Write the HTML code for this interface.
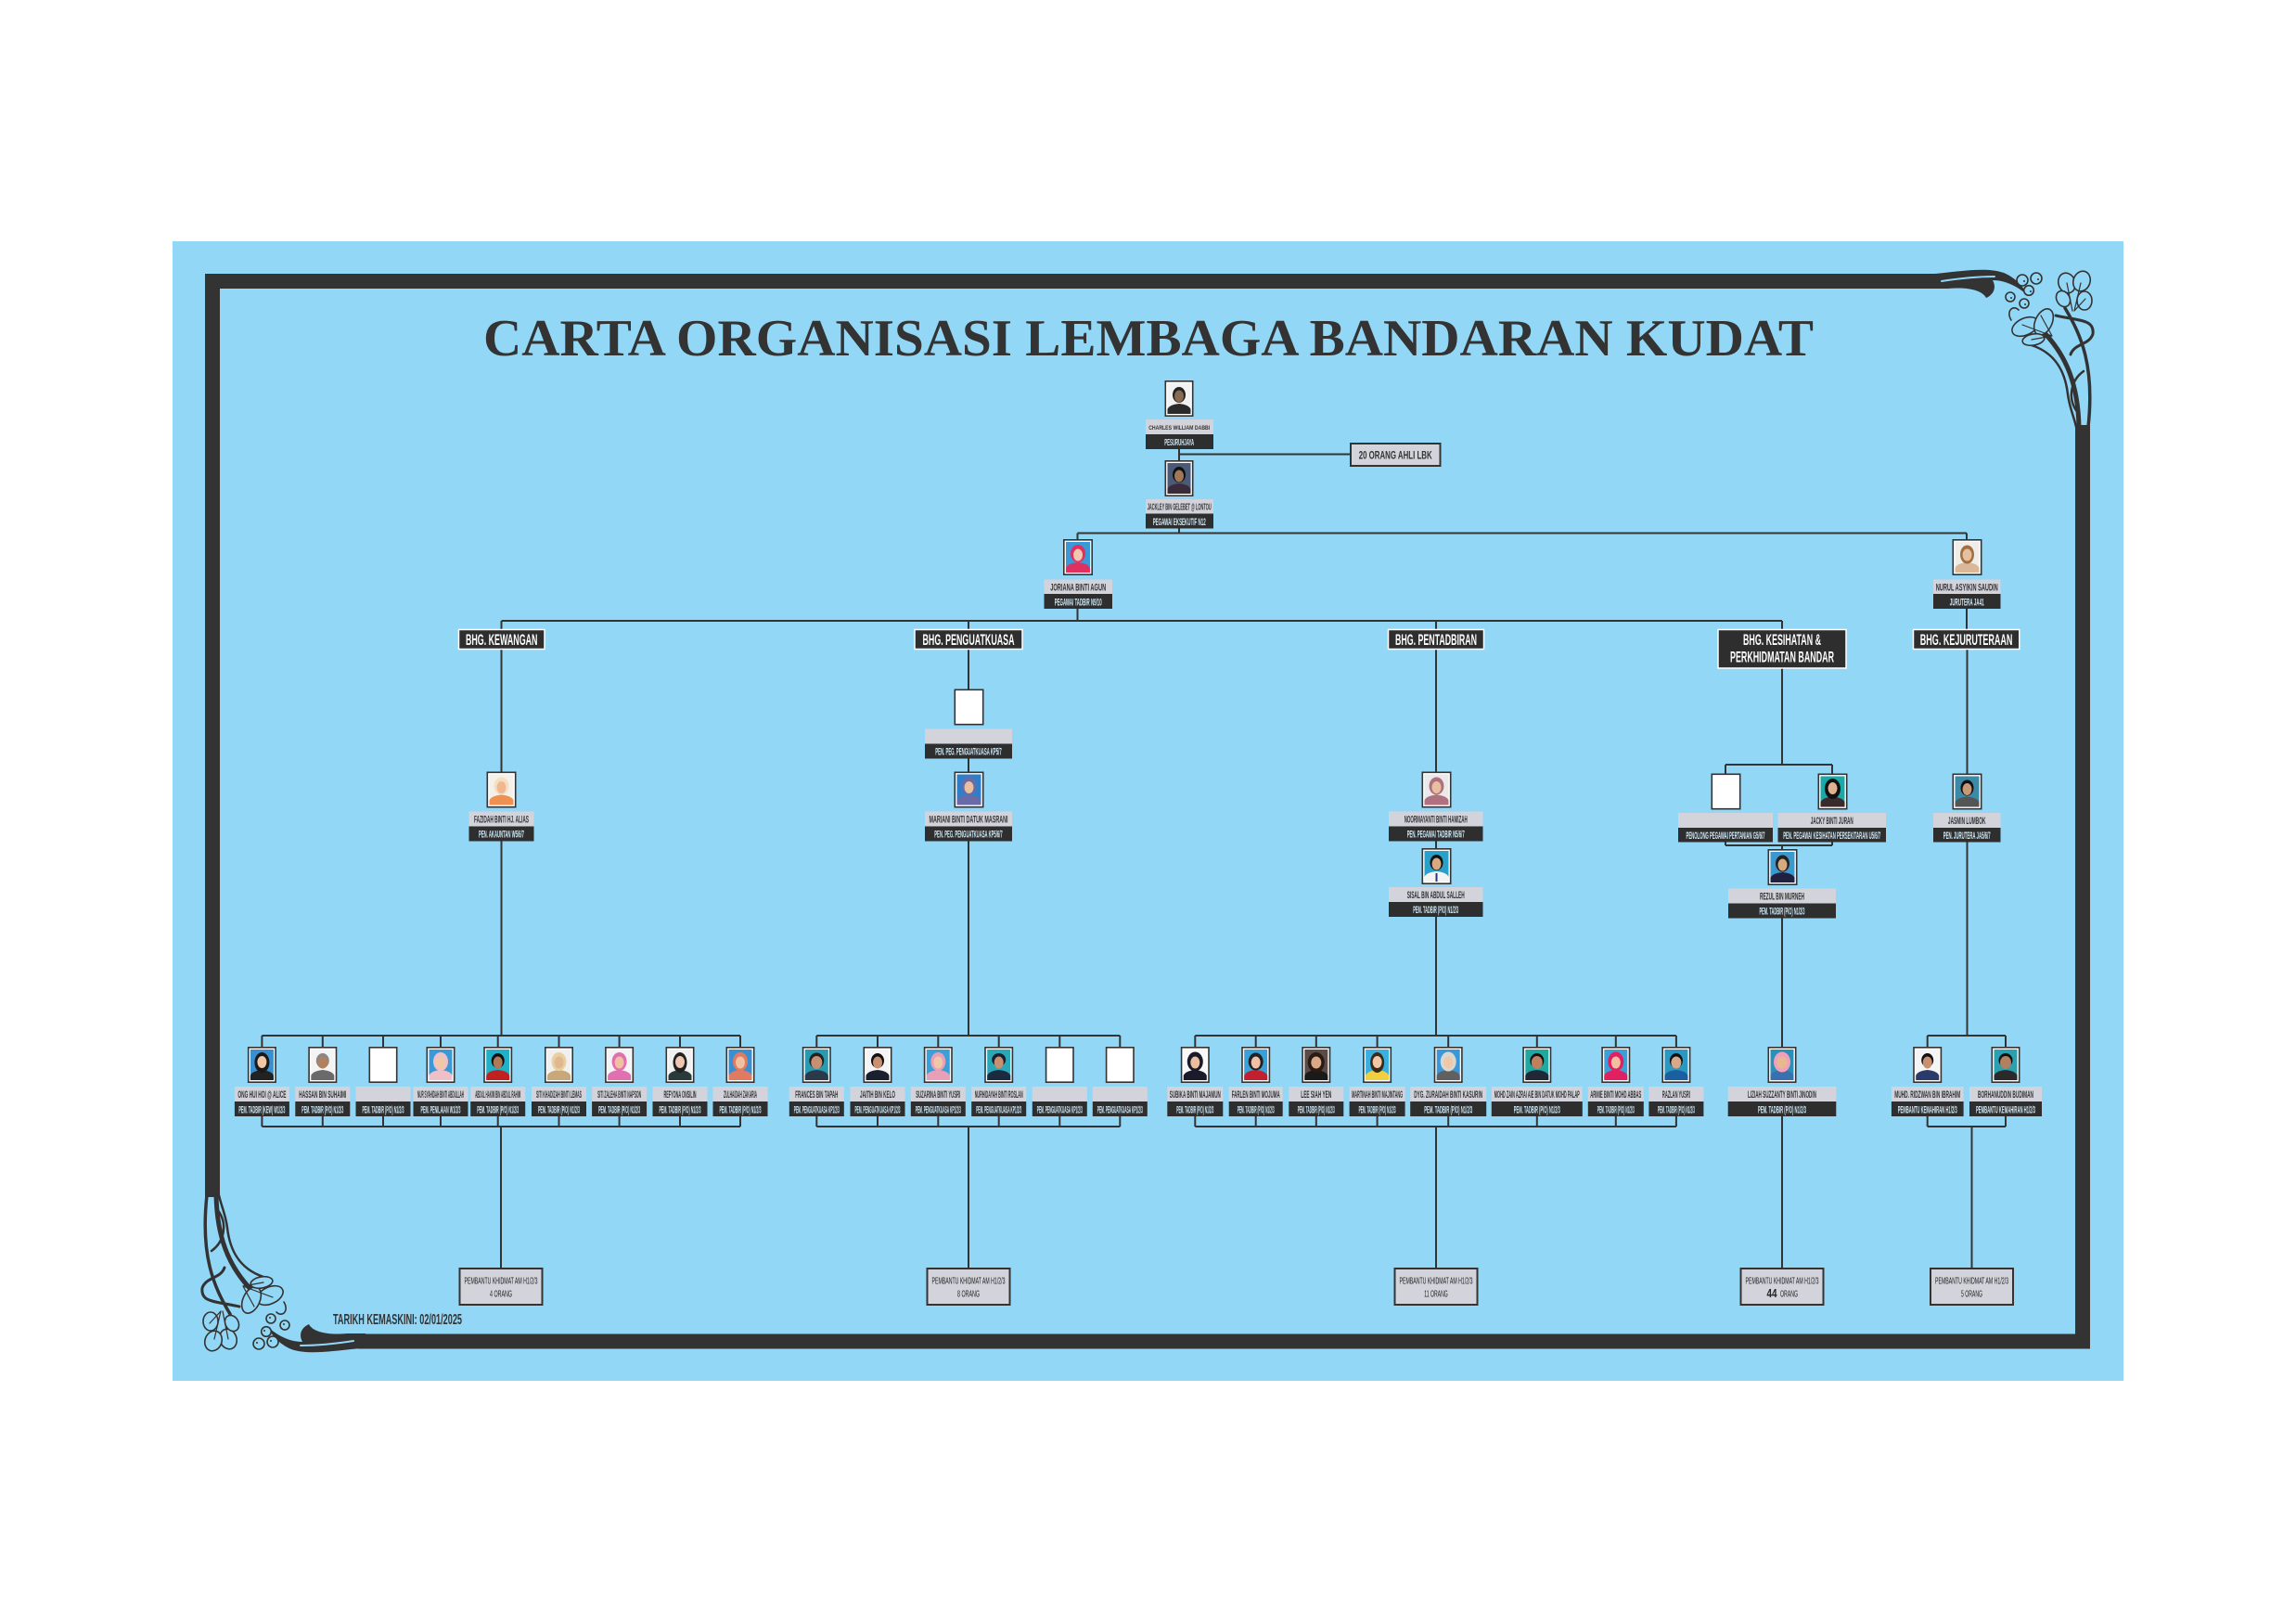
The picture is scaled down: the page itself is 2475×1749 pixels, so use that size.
<!DOCTYPE html>
<html><head><meta charset="utf-8"><title>Carta Organisasi Lembaga Bandaran Kudat</title>
<style>
html,body{margin:0;padding:0;background:#fff;}
svg{display:block;}
.l{stroke:#333;stroke-width:2;fill:none}
.pf{fill:#fff;stroke:#333;stroke-width:1.6}
.gb{fill:#d3d3dc}
.db{fill:#2e2e2e}
.nm{font-family:"Liberation Sans",sans-serif;font-size:11px;font-weight:bold;fill:#333;text-anchor:middle}
.tt{font-family:"Liberation Sans",sans-serif;font-size:11px;font-weight:bold;fill:#cfe9f7;text-anchor:middle}
.hd{fill:#2e2e2e;stroke:#fff;stroke-width:1.5}
.ht{font-family:"Liberation Sans",sans-serif;font-size:17px;font-weight:bold;fill:#fff;text-anchor:middle}
.bb{fill:#d3d3dc;stroke:#333;stroke-width:2}
.bt{font-family:"Liberation Sans",sans-serif;font-size:10.5px;fill:#222;text-anchor:middle}
</style></head>
<body>
<svg width="2475" height="1749" viewBox="0 0 2475 1749" xmlns="http://www.w3.org/2000/svg">
<rect width="2475" height="1749" fill="#fff"/>
<rect x="186" y="260" width="2103" height="1228" fill="#93d7f6"/>

<!-- frame -->
<rect x="221" y="295" width="1866" height="16" fill="#333"/>
<rect x="2237" y="458" width="16" height="995.5" fill="#333"/>
<rect x="386" y="1437.5" width="1867" height="16" fill="#333"/>
<rect x="221" y="295" width="16" height="995" fill="#333"/>

<!-- ornament top-right -->
<g fill="none" stroke="#333" stroke-linecap="round">
 <path d="M2080 295.5 C2110 293 2140 287 2160 294 C2172 299 2183 310 2183 316 C2172 307 2160 302 2148 302 C2152 309 2150 317 2141 321 C2137 313 2122 309 2100 311 L2080 311 Z" fill="#333" stroke="none"/>
 <path d="M2093 303 C2112 300 2132 298 2150 298" stroke="#93d7f6" stroke-width="2"/>
 <path d="M2205 360 C2228 385 2240 415 2241 460" stroke-width="5"/>
 <path d="M2226 332 C2244 362 2258 395 2251 460" stroke-width="3.5"/>
 <path d="M2216 340 C2242 346 2258 344 2256 360 C2252 372 2236 370 2232 382" stroke-width="3"/>
 <path d="M2190 372 C2214 380 2226 398 2229 425 C2231 440 2236 450 2238 460" stroke-width="2.5"/>
 <path d="M2246 400 C2232 410 2228 430 2240 445" stroke-width="2.5"/>
 <g stroke-width="1.6" fill="#93d7f6">
  <circle cx="2180" cy="302" r="6"/><circle cx="2195" cy="300" r="6"/><circle cx="2187" cy="313" r="5.3"/><circle cx="2167" cy="320" r="5"/><circle cx="2182" cy="327" r="5"/>
 </g>
 <g fill="#333" stroke="none">
  <circle cx="2182" cy="303" r="1"/><circle cx="2197" cy="301" r="1"/><circle cx="2189" cy="314" r="1"/><circle cx="2168" cy="321" r="1"/><circle cx="2183" cy="328" r="1"/>
 </g>
 <g stroke-width="1.6" fill="#93d7f6">
  <ellipse cx="2228" cy="305" rx="9" ry="11" transform="rotate(-20 2228 305)"/>
  <ellipse cx="2244" cy="303" rx="9" ry="11" transform="rotate(20 2244 303)"/>
  <ellipse cx="2247" cy="324" rx="8" ry="10"/>
  <ellipse cx="2224" cy="322" rx="7" ry="9" transform="rotate(-30 2224 322)"/>
 </g>
 <path d="M2234 335 L2228 305 M2236 335 L2243 305 M2236 335 L2248 322" stroke-width="1.2"/>
 <g stroke-width="1.6" fill="#93d7f6">
  <ellipse cx="2183" cy="352" rx="15" ry="9" transform="rotate(-25 2183 352)"/>
  <ellipse cx="2203" cy="347" rx="9" ry="15" transform="rotate(25 2203 347)"/>
  <ellipse cx="2192" cy="366" rx="12" ry="6" transform="rotate(-10 2192 366)"/>
  <path d="M2168 345 C2162 335 2170 328 2176 334"/>
 </g>
 <path d="M2212 362 L2180 350 M2212 362 L2200 340 M2212 362 L2190 366" stroke-width="1.2"/>
</g>

<!-- ornament bottom-left (rotated copy) -->
<g fill="none" stroke="#333" stroke-linecap="round" transform="rotate(180 1237 874)">
 <path d="M2080 295.5 C2110 293 2140 287 2160 294 C2172 299 2183 310 2183 316 C2172 307 2160 302 2148 302 C2152 309 2150 317 2141 321 C2137 313 2122 309 2100 311 L2080 311 Z" fill="#333" stroke="none"/>
 <path d="M2093 303 C2112 300 2132 298 2150 298" stroke="#93d7f6" stroke-width="2"/>
 <path d="M2205 360 C2228 385 2240 415 2241 460" stroke-width="5"/>
 <path d="M2226 332 C2244 362 2258 395 2251 460" stroke-width="3.5"/>
 <path d="M2216 340 C2242 346 2258 344 2256 360 C2252 372 2236 370 2232 382" stroke-width="3"/>
 <path d="M2190 372 C2214 380 2226 398 2229 425 C2231 440 2236 450 2238 460" stroke-width="2.5"/>
 <path d="M2246 400 C2232 410 2228 430 2240 445" stroke-width="2.5"/>
 <g stroke-width="1.6" fill="#93d7f6">
  <circle cx="2180" cy="302" r="6"/><circle cx="2195" cy="300" r="6"/><circle cx="2187" cy="313" r="5.3"/><circle cx="2167" cy="320" r="5"/><circle cx="2182" cy="327" r="5"/>
 </g>
 <g fill="#333" stroke="none">
  <circle cx="2182" cy="303" r="1"/><circle cx="2197" cy="301" r="1"/><circle cx="2189" cy="314" r="1"/><circle cx="2168" cy="321" r="1"/><circle cx="2183" cy="328" r="1"/>
 </g>
 <g stroke-width="1.6" fill="#93d7f6">
  <ellipse cx="2228" cy="305" rx="9" ry="11" transform="rotate(-20 2228 305)"/>
  <ellipse cx="2244" cy="303" rx="9" ry="11" transform="rotate(20 2244 303)"/>
  <ellipse cx="2247" cy="324" rx="8" ry="10"/>
  <ellipse cx="2224" cy="322" rx="7" ry="9" transform="rotate(-30 2224 322)"/>
 </g>
 <path d="M2234 335 L2228 305 M2236 335 L2243 305 M2236 335 L2248 322" stroke-width="1.2"/>
 <g stroke-width="1.6" fill="#93d7f6">
  <ellipse cx="2183" cy="352" rx="15" ry="9" transform="rotate(-25 2183 352)"/>
  <ellipse cx="2203" cy="347" rx="9" ry="15" transform="rotate(25 2203 347)"/>
  <ellipse cx="2192" cy="366" rx="12" ry="6" transform="rotate(-10 2192 366)"/>
  <path d="M2168 345 C2162 335 2170 328 2176 334"/>
 </g>
 <path d="M2212 362 L2180 350 M2212 362 L2200 340 M2212 362 L2190 366" stroke-width="1.2"/>
</g>

<!-- title -->
<text x="1238" y="383" text-anchor="middle" textLength="1434" lengthAdjust="spacingAndGlyphs" style="font-family:'Liberation Serif',serif;font-weight:bold;font-size:56px;fill:#333">CARTA ORGANISASI LEMBAGA BANDARAN KUDAT</text>

<!-- connectors -->
<path class="l" d="M1271 484V496 M1271 489.5H1456 M1271 569V574.5 M1161.5 574.5H2120 M1161.5 574.5V581 M2120 574.5V581
M1161.5 656V669 M540.5 669H1921 M540.5 669V678 M1044 669V678 M1548 669V678 M1921 669V678 M2120 656V678
M540.5 699.5V831.5 M1044 699.5V742.5 M1548 699.5V831.5 M1921 720V824 M1860 824H1975 M1860 824V833.5 M1975 824V833.5 M2120.5 699.5V833.5
M1044 817V831.5 M1548 906.5V914 M1860 907.5V911 M1975 907.5V911 M1860 911H1975 M1921 911V915
M540.5 906.5V1116 M1044 906.5V1116 M1548 988V1116 M1921 989.5V1128 M2120.5 907.5V1116
M282.4 1116H798 M282.4 1116V1128 M347.8 1116V1128 M413 1116V1128 M475 1116V1128 M536.7 1116V1128 M602.5 1116V1128 M667.6 1116V1128 M733 1116V1128 M798 1116V1128
M282.4 1203V1214 M347.8 1203V1214 M413 1203V1214 M475 1203V1214 M536.7 1203V1214 M602.5 1203V1214 M667.6 1203V1214 M733 1203V1214 M798 1203V1214 M282.4 1214H798 M540 1214V1367
M880.3 1116H1207.3 M880.3 1116V1128 M946 1116V1128 M1011.3 1116V1128 M1076.7 1116V1128 M1142.3 1116V1128 M1207.3 1116V1128
M880.3 1203V1214 M946 1203V1214 M1011.3 1203V1214 M1076.7 1203V1214 M1142.3 1203V1214 M1207.3 1203V1214 M880.3 1214H1207.3 M1044 1214V1367
M1288.3 1116H1806.9 M1288.3 1116V1128 M1353.7 1116V1128 M1418.8 1116V1128 M1484.6 1116V1128 M1561.2 1116V1128 M1656.8 1116V1128 M1741.8 1116V1128 M1806.9 1116V1128
M1288.3 1203V1214 M1353.7 1203V1214 M1418.8 1203V1214 M1484.6 1203V1214 M1561.2 1203V1214 M1656.8 1203V1214 M1741.8 1203V1214 M1806.9 1203V1214 M1288.3 1214H1806.9 M1548 1214V1367
M1921 1203V1367
M2077.7 1116H2162 M2077.7 1116V1128 M2162 1116V1128 M2077.7 1203V1214 M2162 1203V1214 M2077.7 1214H2162 M2125.5 1214V1367"/>

<!-- ===== TOP LEVEL ===== -->
<g transform="translate(1255.5,410)"><rect class="pf" x=".8" y=".8" width="29.4" height="37.4"/><rect x="3" y="3" width="25" height="33" fill="#f2f2f2"/><path d="M3 36V31Q5 26 15.5 25Q26 26 28 31V36Z" fill="#2a2a2a"/><ellipse cx="15.5" cy="15.5" rx="7" ry="8.5" fill="#222"/><ellipse cx="15.5" cy="17" rx="5" ry="6.5" fill="#8a6a50"/></g>
<rect class="gb" x="1235" y="452" width="73" height="16"/><rect class="db" x="1235" y="468" width="73" height="16"/>
<text class="nm" x="1271.2" y="463" style="font-size:6.5px" textLength="66" lengthAdjust="spacingAndGlyphs">CHARLES WILLIAM DABBI</text>
<text class="tt" x="1271.2" y="480" style="font-size:10px" textLength="32" lengthAdjust="spacingAndGlyphs">PESURUHJAYA</text>

<rect class="bb" x="1456" y="478" width="96.5" height="24"/>
<text class="bt" x="1504.2" y="494.5" style="font-size:11.5px;font-weight:bold;fill:#333" textLength="79" lengthAdjust="spacingAndGlyphs">20 ORANG AHLI LBK</text>

<g transform="translate(1255.5,496)"><rect class="pf" x=".8" y=".8" width="29.4" height="37.4"/><rect x="3" y="3" width="25" height="33" fill="#4a5a78"/><path d="M3 36V31Q5 26 15.5 25Q26 26 28 31V36Z" fill="#3a2a3a"/><ellipse cx="15.5" cy="15.5" rx="7" ry="8.5" fill="#111"/><ellipse cx="15.5" cy="17" rx="5" ry="6.5" fill="#a07858"/></g>
<rect class="gb" x="1235" y="538" width="73" height="15.5"/><rect class="db" x="1235" y="553.5" width="73" height="16"/>
<text class="nm" x="1271.2" y="549.3" style="font-size:10px" textLength="69" lengthAdjust="spacingAndGlyphs">JACKLEY BIN GELEBET @ LONTOU</text>
<text class="tt" x="1271.2" y="566" textLength="57" lengthAdjust="spacingAndGlyphs">PEGAWAI EKSEKUTIF N12</text>

<g transform="translate(1146,581)"><rect class="pf" x=".8" y=".8" width="30.4" height="37.4"/><rect x="3" y="3" width="26" height="33" fill="#3a9ad8"/><path d="M3 36V31Q5 26 16 25Q27 26 29 31V36Z" fill="#e03060"/><ellipse cx="16" cy="15.5" rx="8" ry="9.5" fill="#e03060"/><ellipse cx="16" cy="17" rx="5" ry="6.5" fill="#f0c8b0"/></g>
<rect class="gb" x="1125.5" y="624.5" width="73.5" height="16"/><rect class="db" x="1125.5" y="640" width="73.5" height="16"/>
<text class="nm" x="1162.2" y="636.7" textLength="60" lengthAdjust="spacingAndGlyphs">JORIANA BINTI AGUN</text>
<text class="tt" x="1162.2" y="652.7" textLength="51" lengthAdjust="spacingAndGlyphs">PEGAWAI TADBIR N9/10</text>

<g transform="translate(2104.5,581)"><rect class="pf" x=".8" y=".8" width="30.4" height="37.4"/><rect x="3" y="3" width="26" height="33" fill="#f0ece8"/><path d="M3 36V31Q5 26 16 25Q27 26 29 31V36Z" fill="#d8b898"/><ellipse cx="16" cy="16.5" rx="7.5" ry="10" fill="#a07040"/><ellipse cx="16" cy="17" rx="5" ry="6.5" fill="#e8c0a0"/></g>
<rect class="gb" x="2084" y="624.5" width="72.5" height="16"/><rect class="db" x="2084" y="640" width="72.5" height="16"/>
<text class="nm" x="2120.2" y="636.7" textLength="67" lengthAdjust="spacingAndGlyphs">NURUL ASYIKIN SAUDIN</text>
<text class="tt" x="2120.2" y="652.7" textLength="37" lengthAdjust="spacingAndGlyphs">JURUTERA JA41</text>

<!-- ===== SECTION HEADERS ===== -->
<rect class="hd" x="494.5" y="678.5" width="92.5" height="21"/>
<text class="ht" x="540.7" y="695" textLength="77.5" lengthAdjust="spacingAndGlyphs">BHG. KEWANGAN</text>
<rect class="hd" x="986" y="678.5" width="116" height="21"/>
<text class="ht" x="1044" y="695" textLength="99" lengthAdjust="spacingAndGlyphs">BHG. PENGUATKUASA</text>
<rect class="hd" x="1496.5" y="678.5" width="103" height="21"/>
<text class="ht" x="1548" y="695" textLength="88" lengthAdjust="spacingAndGlyphs">BHG. PENTADBIRAN</text>
<rect class="hd" x="1852" y="678.5" width="138" height="41.5"/>
<text class="ht" x="1921" y="695" textLength="84" lengthAdjust="spacingAndGlyphs">BHG. KESIHATAN &amp;</text>
<text class="ht" x="1921" y="713.3" textLength="112" lengthAdjust="spacingAndGlyphs">PERKHIDMATAN BANDAR</text>
<rect class="hd" x="2062.5" y="678.5" width="114.3" height="21"/>
<text class="ht" x="2119.6" y="695" textLength="99.6" lengthAdjust="spacingAndGlyphs">BHG. KEJURUTERAAN</text>

<!-- ===== MID LEVEL ===== -->
<g transform="translate(524.5,831.5)"><rect class="pf" x=".8" y=".8" width="30.4" height="37.4"/><rect x="3" y="3" width="26" height="33" fill="#f4f0ea"/><path d="M3 36V31Q5 26 16 25Q27 26 29 31V36Z" fill="#f09050"/><ellipse cx="16" cy="15.5" rx="8" ry="9.5" fill="#f4e0c0"/><ellipse cx="16" cy="17" rx="5" ry="6.5" fill="#f0b890"/></g>
<rect class="gb" x="505.5" y="874.5" width="70" height="16"/><rect class="db" x="505.5" y="890.5" width="70" height="16"/>
<text class="nm" x="540.5" y="886.5" textLength="59" lengthAdjust="spacingAndGlyphs">FAZIDAH BINTI HJ. ALIAS</text>
<text class="tt" x="540.5" y="902.5" textLength="49" lengthAdjust="spacingAndGlyphs">PEN. AKAUNTAN W5/6/7</text>

<g transform="translate(1028.5,742.5)"><rect class="pf" x=".8" y=".8" width="30.4" height="37.4"/></g>
<rect class="gb" x="997" y="785.5" width="94" height="16"/><rect class="db" x="997" y="801.5" width="94" height="16"/>
<text class="tt" x="1044" y="813.5" textLength="71.5" lengthAdjust="spacingAndGlyphs">PEN. PEG. PENGUATKUASA KP5/7</text>

<g transform="translate(1028.5,831.5)"><rect class="pf" x=".8" y=".8" width="30.4" height="37.4"/><rect x="3" y="3" width="26" height="33" fill="#2f7fc8"/><path d="M3 36V31Q5 26 16 25Q27 26 29 31V36Z" fill="#6a6aa8"/><ellipse cx="16" cy="15.5" rx="8" ry="9.5" fill="#6a6aa8"/><ellipse cx="16" cy="17" rx="5" ry="6.5" fill="#e8c0a0"/></g>
<rect class="gb" x="997" y="874.5" width="94" height="16"/><rect class="db" x="997" y="890.5" width="94" height="16"/>
<text class="nm" x="1044" y="886.5" textLength="85" lengthAdjust="spacingAndGlyphs">MARIANI BINTI DATUK MASRANI</text>
<text class="tt" x="1044" y="902.5" textLength="73.5" lengthAdjust="spacingAndGlyphs">PEN. PEG. PENGUATKUASA KP5/6/7</text>

<g transform="translate(1532.5,831.5)"><rect class="pf" x=".8" y=".8" width="30.4" height="37.4"/><rect x="3" y="3" width="26" height="33" fill="#eaeaea"/><path d="M3 36V31Q5 26 16 25Q27 26 29 31V36Z" fill="#b07080"/><ellipse cx="16" cy="15.5" rx="8" ry="9.5" fill="#b07080"/><ellipse cx="16" cy="17" rx="5" ry="6.5" fill="#e8c0a0"/></g>
<rect class="gb" x="1497" y="874.5" width="101.5" height="16"/><rect class="db" x="1497" y="890.5" width="101.5" height="16"/>
<text class="nm" x="1547.7" y="886.5" textLength="68" lengthAdjust="spacingAndGlyphs">NOORMAYANTI BINTI HAMIZAH</text>
<text class="tt" x="1547.7" y="902.5" textLength="62" lengthAdjust="spacingAndGlyphs">PEN. PEGAWAI TADBIR N5/6/7</text>

<g transform="translate(1532.5,914)"><rect class="pf" x=".8" y=".8" width="30.4" height="37.4"/><rect x="3" y="3" width="26" height="33" fill="#2aa0c8"/><path d="M3 36V31Q5 26 16 25Q27 26 29 31V36Z" fill="#f4f4f4"/><rect x="15" y="27" width="2" height="9" fill="#1a3a8a"/><ellipse cx="16" cy="15.5" rx="7" ry="8.5" fill="#111"/><ellipse cx="16" cy="17" rx="5" ry="6.5" fill="#d8a880"/></g>
<rect class="gb" x="1497" y="956" width="101.5" height="16"/><rect class="db" x="1497" y="972" width="101.5" height="16"/>
<text class="nm" x="1547.7" y="968" textLength="62" lengthAdjust="spacingAndGlyphs">SISAL BIN ABDUL SALLEH</text>
<text class="tt" x="1547.7" y="984" textLength="49" lengthAdjust="spacingAndGlyphs">PEM. TADBIR (P/O) N1/2/3</text>

<g transform="translate(1844.5,833.5)"><rect class="pf" x=".8" y=".8" width="30.4" height="37.4"/></g>
<rect class="gb" x="1809" y="876" width="102" height="16"/><rect class="db" x="1809" y="892" width="102" height="15.5"/>
<text class="tt" x="1860" y="904" textLength="85" lengthAdjust="spacingAndGlyphs">PENOLONG PEGAWAI PERTANIAN G5/6/7</text>

<g transform="translate(1959.5,833.5)"><rect class="pf" x=".8" y=".8" width="30.4" height="37.4"/><rect x="3" y="3" width="26" height="33" fill="#1aa8a8"/><path d="M3 36V31Q5 26 16 25Q27 26 29 31V36Z" fill="#3a2a2a"/><ellipse cx="16" cy="16.5" rx="8.5" ry="11" fill="#111"/><ellipse cx="16" cy="16" rx="5" ry="6.5" fill="#e0b090"/></g>
<rect class="gb" x="1916.5" y="876" width="116.5" height="16"/><rect class="db" x="1916.5" y="892" width="116.5" height="15.5"/>
<text class="nm" x="1974.7" y="888" textLength="46" lengthAdjust="spacingAndGlyphs">JACKY BINTI JURAN</text>
<text class="tt" x="1974.7" y="904" textLength="105" lengthAdjust="spacingAndGlyphs">PEN. PEGAWAI KESIHATAN PERSEKITARAN U5/6/7</text>

<g transform="translate(1905.5,915)"><rect class="pf" x=".8" y=".8" width="30.4" height="37.4"/><rect x="3" y="3" width="26" height="33" fill="#3a9ad0"/><path d="M3 36V31Q5 26 16 25Q27 26 29 31V36Z" fill="#202040"/><ellipse cx="16" cy="15.5" rx="7.5" ry="9" fill="#222"/><ellipse cx="16" cy="17" rx="5" ry="6.5" fill="#d8a880"/></g>
<rect class="gb" x="1863" y="957.5" width="116" height="16"/><rect class="db" x="1863" y="973.5" width="116" height="16"/>
<text class="nm" x="1921" y="969.5" textLength="48" lengthAdjust="spacingAndGlyphs">REZUL BIN MURNEH</text>
<text class="tt" x="1921" y="985.5" textLength="49" lengthAdjust="spacingAndGlyphs">PEM. TADBIR (P/O) N1/2/3</text>

<g transform="translate(2104.5,833.5)"><rect class="pf" x=".8" y=".8" width="30.4" height="37.4"/><rect x="3" y="3" width="26" height="33" fill="#3a8aa8"/><path d="M3 36V31Q5 26 16 25Q27 26 29 31V36Z" fill="#555"/><ellipse cx="16" cy="15.5" rx="7" ry="8.5" fill="#111"/><ellipse cx="16" cy="17" rx="5" ry="6.5" fill="#c89878"/></g>
<rect class="gb" x="2084" y="876" width="72.5" height="16"/><rect class="db" x="2084" y="892" width="72.5" height="15.5"/>
<text class="nm" x="2120.2" y="888" textLength="40.6" lengthAdjust="spacingAndGlyphs">JASMIN LUMBOK</text>
<text class="tt" x="2120.2" y="904" textLength="51" lengthAdjust="spacingAndGlyphs">PEN. JURUTERA JA5/6/7</text>

<!-- ===== ROW A : KEWANGAN ===== -->
<g transform="translate(266.9,1128)"><rect class="pf" x=".8" y=".8" width="29.4" height="37.4"/><rect x="3" y="3" width="25" height="33" fill="#3a8fd0"/><path d="M3 36V31Q5 26 15.5 25Q26 26 28 31V36Z" fill="#222"/><ellipse cx="15.5" cy="17" rx="8" ry="11" fill="#1a1a1a"/><ellipse cx="15.5" cy="16.5" rx="5" ry="6.5" fill="#f0c8a8"/></g>
<g transform="translate(332.3,1128)"><rect class="pf" x=".8" y=".8" width="29.4" height="37.4"/><rect x="3" y="3" width="25" height="33" fill="#f4f4f4"/><path d="M3 36V31Q5 26 15.5 25Q26 26 28 31V36Z" fill="#6a6a6a"/><ellipse cx="15.5" cy="15" rx="7" ry="8" fill="#888"/><ellipse cx="15.5" cy="17" rx="5.5" ry="6.5" fill="#b08060"/></g>
<g transform="translate(397.5,1128)"><rect class="pf" x=".8" y=".8" width="29.4" height="37.4"/></g>
<g transform="translate(459.5,1128)"><rect class="pf" x=".8" y=".8" width="29.4" height="37.4"/><rect x="3" y="3" width="25" height="33" fill="#3a9ad8"/><path d="M3 36V31Q5 26 15.5 25Q26 26 28 31V36Z" fill="#f0c0c8"/><ellipse cx="15.5" cy="16" rx="8" ry="10" fill="#f0c0c8"/><ellipse cx="15.5" cy="17" rx="5" ry="6.5" fill="#f0c8a8"/></g>
<g transform="translate(521.2,1128)"><rect class="pf" x=".8" y=".8" width="29.4" height="37.4"/><rect x="3" y="3" width="25" height="33" fill="#20b0c8"/><path d="M3 36V31Q5 26 15.5 25Q26 26 28 31V36Z" fill="#c02020"/><ellipse cx="15.5" cy="15" rx="7" ry="8" fill="#111"/><ellipse cx="15.5" cy="17" rx="5" ry="6.5" fill="#b07a58"/></g>
<g transform="translate(587,1128)"><rect class="pf" x=".8" y=".8" width="29.4" height="37.4"/><rect x="3" y="3" width="25" height="33" fill="#f0f0f0"/><path d="M3 36V31Q5 26 15.5 25Q26 26 28 31V36Z" fill="#c8a878"/><ellipse cx="15.5" cy="16" rx="8" ry="10" fill="#e8d0a0"/><ellipse cx="15.5" cy="17" rx="5" ry="6.5" fill="#e0b890"/></g>
<g transform="translate(652.1,1128)"><rect class="pf" x=".8" y=".8" width="29.4" height="37.4"/><rect x="3" y="3" width="25" height="33" fill="#f4f4f4"/><path d="M3 36V31Q5 26 15.5 25Q26 26 28 31V36Z" fill="#e070b0"/><ellipse cx="15.5" cy="16" rx="8" ry="10" fill="#e070b0"/><ellipse cx="15.5" cy="17" rx="5" ry="6.5" fill="#f0c0a0"/></g>
<g transform="translate(717.5,1128)"><rect class="pf" x=".8" y=".8" width="29.4" height="37.4"/><rect x="3" y="3" width="25" height="33" fill="#f0f0f0"/><path d="M3 36V31Q5 26 15.5 25Q26 26 28 31V36Z" fill="#2a3a3a"/><ellipse cx="15.5" cy="17" rx="7.5" ry="11" fill="#222"/><ellipse cx="15.5" cy="16.5" rx="5" ry="6.5" fill="#f0c8b0"/></g>
<g transform="translate(782.5,1128)"><rect class="pf" x=".8" y=".8" width="29.4" height="37.4"/><rect x="3" y="3" width="25" height="33" fill="#3a8fd0"/><path d="M3 36V31Q5 26 15.5 25Q26 26 28 31V36Z" fill="#e07a60"/><ellipse cx="15.5" cy="16" rx="8" ry="10" fill="#e07a60"/><ellipse cx="15.5" cy="17" rx="5" ry="6.5" fill="#f0c0a0"/></g>

<rect class="gb" x="252.9" y="1171" width="59" height="16"/><rect class="db" x="252.9" y="1187" width="59" height="16"/>
<rect class="gb" x="318.3" y="1171" width="59" height="16"/><rect class="db" x="318.3" y="1187" width="59" height="16"/>
<rect class="gb" x="383.5" y="1171" width="59" height="16"/><rect class="db" x="383.5" y="1187" width="59" height="16"/>
<rect class="gb" x="445.5" y="1171" width="59" height="16"/><rect class="db" x="445.5" y="1187" width="59" height="16"/>
<rect class="gb" x="507.2" y="1171" width="59" height="16"/><rect class="db" x="507.2" y="1187" width="59" height="16"/>
<rect class="gb" x="573" y="1171" width="59" height="16"/><rect class="db" x="573" y="1187" width="59" height="16"/>
<rect class="gb" x="638.1" y="1171" width="59" height="16"/><rect class="db" x="638.1" y="1187" width="59" height="16"/>
<rect class="gb" x="703.5" y="1171" width="59" height="16"/><rect class="db" x="703.5" y="1187" width="59" height="16"/>
<rect class="gb" x="768.5" y="1171" width="59" height="16"/><rect class="db" x="768.5" y="1187" width="59" height="16"/>

<text class="nm" x="282.4" y="1183" textLength="52" lengthAdjust="spacingAndGlyphs">ONG HUI HOI @ ALICE</text>
<text class="nm" x="347.8" y="1183" textLength="51" lengthAdjust="spacingAndGlyphs">HASSAN BIN SUHAIMI</text>
<text class="nm" x="475" y="1183" textLength="50" lengthAdjust="spacingAndGlyphs">NUR SYAHIDAH BINTI ABDULLAH</text>
<text class="nm" x="536.7" y="1183" textLength="49" lengthAdjust="spacingAndGlyphs">ABDUL HAKIM BIN ABDUL RAHIM</text>
<text class="nm" x="602.5" y="1183" textLength="49" lengthAdjust="spacingAndGlyphs">SITI KHADIZAH BINTI LEMAS</text>
<text class="nm" x="667.6" y="1183" textLength="47" lengthAdjust="spacingAndGlyphs">SITI ZALEHA BINTI NAPSON</text>
<text class="nm" x="733" y="1183" textLength="35" lengthAdjust="spacingAndGlyphs">REFYONA ONSILIN</text>
<text class="nm" x="798" y="1183" textLength="36" lengthAdjust="spacingAndGlyphs">ZULHAIDAH ZAKARIA</text>

<text class="tt" x="282.4" y="1199.5" textLength="50" lengthAdjust="spacingAndGlyphs">PEM. TADBIR (KEW) W1/2/3</text>
<text class="tt" x="347.8" y="1199.5" textLength="45" lengthAdjust="spacingAndGlyphs">PEM. TADBIR (P/O) N1/2/3</text>
<text class="tt" x="413" y="1199.5" textLength="45" lengthAdjust="spacingAndGlyphs">PEM. TADBIR (P/O) N1/2/3</text>
<text class="tt" x="475" y="1199.5" textLength="43" lengthAdjust="spacingAndGlyphs">PEM. PENILAIAN W1/2/3</text>
<text class="tt" x="536.7" y="1199.5" textLength="45" lengthAdjust="spacingAndGlyphs">PEM. TADBIR (P/O) N1/2/3</text>
<text class="tt" x="602.5" y="1199.5" textLength="45" lengthAdjust="spacingAndGlyphs">PEM. TADBIR (P/O) N1/2/3</text>
<text class="tt" x="667.6" y="1199.5" textLength="45" lengthAdjust="spacingAndGlyphs">PEM. TADBIR (P/O) N1/2/3</text>
<text class="tt" x="733" y="1199.5" textLength="45" lengthAdjust="spacingAndGlyphs">PEM. TADBIR (P/O) N1/2/3</text>
<text class="tt" x="798" y="1199.5" textLength="45" lengthAdjust="spacingAndGlyphs">PEM. TADBIR (P/O) N1/2/3</text>

<!-- ===== ROW B : PENGUATKUASA ===== -->
<g transform="translate(864.8,1128)"><rect class="pf" x=".8" y=".8" width="29.4" height="37.4"/><rect x="3" y="3" width="25" height="33" fill="#2a9ab0"/><path d="M3 36V31Q5 26 15.5 25Q26 26 28 31V36Z" fill="#2a3a4a"/><ellipse cx="15.5" cy="15" rx="8" ry="8.5" fill="#222"/><ellipse cx="15.5" cy="17" rx="6" ry="7" fill="#c89070"/></g>
<g transform="translate(930.5,1128)"><rect class="pf" x=".8" y=".8" width="29.4" height="37.4"/><rect x="3" y="3" width="25" height="33" fill="#f4f4f4"/><path d="M3 36V31Q5 26 15.5 25Q26 26 28 31V36Z" fill="#1a2030"/><ellipse cx="15.5" cy="15" rx="7" ry="8" fill="#111"/><ellipse cx="15.5" cy="17" rx="5" ry="6.5" fill="#c89070"/></g>
<g transform="translate(995.8,1128)"><rect class="pf" x=".8" y=".8" width="29.4" height="37.4"/><rect x="3" y="3" width="25" height="33" fill="#3aa0d8"/><path d="M3 36V31Q5 26 15.5 25Q26 26 28 31V36Z" fill="#e8a0b8"/><ellipse cx="15.5" cy="16" rx="8" ry="10" fill="#e8a0b8"/><ellipse cx="15.5" cy="17" rx="5" ry="6.5" fill="#f0c8a8"/></g>
<g transform="translate(1061.2,1128)"><rect class="pf" x=".8" y=".8" width="29.4" height="37.4"/><rect x="3" y="3" width="25" height="33" fill="#2aa8b8"/><path d="M3 36V31Q5 26 15.5 25Q26 26 28 31V36Z" fill="#1a2a40"/><ellipse cx="15.5" cy="14" rx="7.5" ry="7" fill="#1a2030"/><ellipse cx="15.5" cy="17" rx="5" ry="6.5" fill="#c89070"/></g>
<g transform="translate(1126.8,1128)"><rect class="pf" x=".8" y=".8" width="29.4" height="37.4"/></g>
<g transform="translate(1191.8,1128)"><rect class="pf" x=".8" y=".8" width="29.4" height="37.4"/></g>

<rect class="gb" x="850.8" y="1171" width="59" height="16"/><rect class="db" x="850.8" y="1187" width="59" height="16"/>
<rect class="gb" x="916.5" y="1171" width="59" height="16"/><rect class="db" x="916.5" y="1187" width="59" height="16"/>
<rect class="gb" x="981.8" y="1171" width="59" height="16"/><rect class="db" x="981.8" y="1187" width="59" height="16"/>
<rect class="gb" x="1047.2" y="1171" width="59" height="16"/><rect class="db" x="1047.2" y="1187" width="59" height="16"/>
<rect class="gb" x="1112.8" y="1171" width="59" height="16"/><rect class="db" x="1112.8" y="1187" width="59" height="16"/>
<rect class="gb" x="1177.8" y="1171" width="59" height="16"/><rect class="db" x="1177.8" y="1187" width="59" height="16"/>

<text class="nm" x="880.3" y="1183" textLength="46" lengthAdjust="spacingAndGlyphs">FRANCES BIN TAPAH</text>
<text class="nm" x="946" y="1183" textLength="38" lengthAdjust="spacingAndGlyphs">JAITIH BIN KELO</text>
<text class="nm" x="1011.3" y="1183" textLength="48" lengthAdjust="spacingAndGlyphs">SUZARINA BINTI YUSRI</text>
<text class="nm" x="1076.7" y="1183" textLength="52" lengthAdjust="spacingAndGlyphs">NURHIDAYAH BINTI ROSLAN</text>

<text class="tt" x="880.3" y="1199.5" textLength="49" lengthAdjust="spacingAndGlyphs">PEM. PENGUATKUASA KP1/2/3</text>
<text class="tt" x="946" y="1199.5" textLength="49" lengthAdjust="spacingAndGlyphs">PEM. PENGUATKUASA KP1/2/3</text>
<text class="tt" x="1011.3" y="1199.5" textLength="49" lengthAdjust="spacingAndGlyphs">PEM. PENGUATKUASA KP1/2/3</text>
<text class="tt" x="1076.7" y="1199.5" textLength="49" lengthAdjust="spacingAndGlyphs">PEM. PENGUATKUASA KP1/2/3</text>
<text class="tt" x="1142.3" y="1199.5" textLength="49" lengthAdjust="spacingAndGlyphs">PEM. PENGUATKUASA KP1/2/3</text>
<text class="tt" x="1207.3" y="1199.5" textLength="49" lengthAdjust="spacingAndGlyphs">PEM. PENGUATKUASA KP1/2/3</text>

<!-- ===== ROW C : PENTADBIRAN ===== -->
<g transform="translate(1272.8,1128)"><rect class="pf" x=".8" y=".8" width="29.4" height="37.4"/><rect x="3" y="3" width="25" height="33" fill="#f8f8f8"/><path d="M3 36V31Q5 26 15.5 25Q26 26 28 31V36Z" fill="#1a1a2a"/><ellipse cx="15.5" cy="16" rx="8.5" ry="10.5" fill="#1a1a2a"/><ellipse cx="15.5" cy="17" rx="5" ry="6.5" fill="#e8c0a0"/></g>
<g transform="translate(1338.2,1128)"><rect class="pf" x=".8" y=".8" width="29.4" height="37.4"/><rect x="3" y="3" width="25" height="33" fill="#3aa0d8"/><path d="M3 36V31Q5 26 15.5 25Q26 26 28 31V36Z" fill="#c02030"/><ellipse cx="15.5" cy="16" rx="8" ry="9.5" fill="#222"/><ellipse cx="15.5" cy="17" rx="5" ry="6.5" fill="#f0c0a8"/></g>
<g transform="translate(1403.3,1128)"><rect class="pf" x=".8" y=".8" width="29.4" height="37.4"/><rect x="3" y="3" width="25" height="33" fill="#5a4a48"/><path d="M3 36V31Q5 26 15.5 25Q26 26 28 31V36Z" fill="#1a1a1a"/><ellipse cx="15.5" cy="17" rx="9" ry="11" fill="#2a1a10"/><ellipse cx="15.5" cy="17" rx="5.5" ry="6.5" fill="#d8a888"/></g>
<g transform="translate(1469.1,1128)"><rect class="pf" x=".8" y=".8" width="29.4" height="37.4"/><rect x="3" y="3" width="25" height="33" fill="#3ab0e0"/><path d="M3 36V31Q5 26 15.5 25Q26 26 28 31V36Z" fill="#f0d040"/><ellipse cx="15.5" cy="17" rx="7.5" ry="11" fill="#3a2a1a"/><ellipse cx="15.5" cy="16.5" rx="5" ry="6.5" fill="#f0c8a8"/></g>
<g transform="translate(1545.7,1128)"><rect class="pf" x=".8" y=".8" width="29.4" height="37.4"/><rect x="3" y="3" width="25" height="33" fill="#3a98d8"/><path d="M3 36V31Q5 26 15.5 25Q26 26 28 31V36Z" fill="#606060"/><ellipse cx="15.5" cy="16" rx="8.5" ry="10.5" fill="#d8d8d0"/><ellipse cx="15.5" cy="17" rx="5" ry="6.5" fill="#f0c8a8"/></g>
<g transform="translate(1641.3,1128)"><rect class="pf" x=".8" y=".8" width="29.4" height="37.4"/><rect x="3" y="3" width="25" height="33" fill="#20a8a0"/><path d="M3 36V31Q5 26 15.5 25Q26 26 28 31V36Z" fill="#202838"/><ellipse cx="15.5" cy="15" rx="7.5" ry="8" fill="#111"/><ellipse cx="15.5" cy="17" rx="6" ry="7" fill="#c08060"/></g>
<g transform="translate(1726.3,1128)"><rect class="pf" x=".8" y=".8" width="29.4" height="37.4"/><rect x="3" y="3" width="25" height="33" fill="#3aa0d8"/><path d="M3 36V31Q5 26 15.5 25Q26 26 28 31V36Z" fill="#e02060"/><ellipse cx="15.5" cy="16" rx="8.5" ry="10.5" fill="#e02060"/><ellipse cx="15.5" cy="17" rx="5" ry="6.5" fill="#f0c0a0"/></g>
<g transform="translate(1791.4,1128)"><rect class="pf" x=".8" y=".8" width="29.4" height="37.4"/><rect x="3" y="3" width="25" height="33" fill="#2a98c0"/><path d="M3 36V31Q5 26 15.5 25Q26 26 28 31V36Z" fill="#1a60a0"/><ellipse cx="15.5" cy="15" rx="7" ry="8" fill="#111"/><ellipse cx="15.5" cy="17" rx="5.5" ry="6.5" fill="#d8a888"/></g>

<rect class="gb" x="1258.3" y="1171" width="60" height="16"/><rect class="db" x="1258.3" y="1187" width="60" height="16"/>
<rect class="gb" x="1324.7" y="1171" width="58" height="16"/><rect class="db" x="1324.7" y="1187" width="58" height="16"/>
<rect class="gb" x="1389.3" y="1171" width="59" height="16"/><rect class="db" x="1389.3" y="1187" width="59" height="16"/>
<rect class="gb" x="1454.6" y="1171" width="60" height="16"/><rect class="db" x="1454.6" y="1187" width="60" height="16"/>
<rect class="gb" x="1520.2" y="1171" width="82" height="16"/><rect class="db" x="1520.2" y="1187" width="82" height="16"/>
<rect class="gb" x="1607.8" y="1171" width="98" height="16"/><rect class="db" x="1607.8" y="1187" width="98" height="16"/>
<rect class="gb" x="1711.8" y="1171" width="60" height="16"/><rect class="db" x="1711.8" y="1187" width="60" height="16"/>
<rect class="gb" x="1777.4" y="1171" width="59" height="16"/><rect class="db" x="1777.4" y="1187" width="59" height="16"/>

<text class="nm" x="1288.3" y="1183" textLength="55" lengthAdjust="spacingAndGlyphs">SUBIKA BINTI MAJAMUN</text>
<text class="nm" x="1353.7" y="1183" textLength="52" lengthAdjust="spacingAndGlyphs">FARLEN BINTI MOJUMA</text>
<text class="nm" x="1418.8" y="1183" textLength="33" lengthAdjust="spacingAndGlyphs">LEE SIAH YEN</text>
<text class="nm" x="1484.6" y="1183" textLength="55" lengthAdjust="spacingAndGlyphs">MARTINAH BINTI MAJINTANG</text>
<text class="nm" x="1561.2" y="1183" textLength="74" lengthAdjust="spacingAndGlyphs">DYG. ZURAIDAH BINTI KASURIN</text>
<text class="nm" x="1656.8" y="1183" textLength="92" lengthAdjust="spacingAndGlyphs">MOHD ZAIN AZRAI AIE BIN DATUK MOHD PALAP</text>
<text class="nm" x="1741.8" y="1183" textLength="55" lengthAdjust="spacingAndGlyphs">ARMIE BINTI MOHD ABBAS</text>
<text class="nm" x="1806.9" y="1183" textLength="30" lengthAdjust="spacingAndGlyphs">RAZLAN YUSRI</text>

<text class="tt" x="1288.3" y="1199.5" textLength="40" lengthAdjust="spacingAndGlyphs">PEM. TADBIR (P/O) N1/2/3</text>
<text class="tt" x="1353.7" y="1199.5" textLength="40" lengthAdjust="spacingAndGlyphs">PEM. TADBIR (P/O) N1/2/3</text>
<text class="tt" x="1418.8" y="1199.5" textLength="40" lengthAdjust="spacingAndGlyphs">PEM. TADBIR (P/O) N1/2/3</text>
<text class="tt" x="1484.6" y="1199.5" textLength="40" lengthAdjust="spacingAndGlyphs">PEM. TADBIR (P/O) N1/2/3</text>
<text class="tt" x="1561.2" y="1199.5" textLength="52" lengthAdjust="spacingAndGlyphs">PEM. TADBIR (P/O) N1/2/3</text>
<text class="tt" x="1656.8" y="1199.5" textLength="50" lengthAdjust="spacingAndGlyphs">PEM. TADBIR (P/O) N1/2/3</text>
<text class="tt" x="1741.8" y="1199.5" textLength="40" lengthAdjust="spacingAndGlyphs">PEM. TADBIR (P/O) N1/2/3</text>
<text class="tt" x="1806.9" y="1199.5" textLength="40" lengthAdjust="spacingAndGlyphs">PEM. TADBIR (P/O) N1/2/3</text>

<!-- ===== ROW D : KESIHATAN ===== -->
<g transform="translate(1905.5,1128)"><rect class="pf" x=".8" y=".8" width="29.4" height="37.4"/><rect x="3" y="3" width="25" height="33" fill="#2a90b8"/><path d="M3 36V31Q5 26 15.5 25Q26 26 28 31V36Z" fill="#3a70b0"/><ellipse cx="15.5" cy="16.5" rx="9" ry="11" fill="#f0a0b8"/><ellipse cx="15.5" cy="17" rx="5.5" ry="6.5" fill="#e8b890"/></g>
<rect class="gb" x="1862.7" y="1171" width="116.6" height="16"/><rect class="db" x="1862.7" y="1187" width="116.6" height="16"/>
<text class="nm" x="1921" y="1183" textLength="74" lengthAdjust="spacingAndGlyphs">LIZIAH SUZZANTY BINTI JINODIN</text>
<text class="tt" x="1921" y="1199.5" textLength="52" lengthAdjust="spacingAndGlyphs">PEM. TADBIR (P/O) N1/2/3</text>

<!-- ===== ROW E : KEJURUTERAAN ===== -->
<g transform="translate(2062.2,1128)"><rect class="pf" x=".8" y=".8" width="29.4" height="37.4"/><rect x="3" y="3" width="25" height="33" fill="#f4f4f4"/><path d="M3 36V31Q5 26 15.5 25Q26 26 28 31V36Z" fill="#2a3a6a"/><ellipse cx="15.5" cy="14.5" rx="6.5" ry="7.5" fill="#111"/><ellipse cx="15.5" cy="17" rx="5" ry="6.5" fill="#c89070"/></g>
<g transform="translate(2146.5,1128)"><rect class="pf" x=".8" y=".8" width="29.4" height="37.4"/><rect x="3" y="3" width="25" height="33" fill="#2aa0b0"/><path d="M3 36V31Q5 26 15.5 25Q26 26 28 31V36Z" fill="#2a2a2a"/><ellipse cx="15.5" cy="14.5" rx="7.5" ry="7.5" fill="#111"/><ellipse cx="15.5" cy="17" rx="6" ry="7" fill="#b08060"/></g>
<rect class="gb" x="2038.9" y="1171" width="77.7" height="16"/><rect class="db" x="2038.9" y="1187" width="77.7" height="16"/>
<rect class="gb" x="2123" y="1171" width="78" height="16"/><rect class="db" x="2123" y="1187" width="78" height="16"/>
<text class="nm" x="2077.7" y="1183" textLength="71" lengthAdjust="spacingAndGlyphs">MUHD. RIDZWAN BIN IBRAHIM</text>
<text class="nm" x="2162" y="1183" textLength="60" lengthAdjust="spacingAndGlyphs">BORHANUDDIN BUDIMAN</text>
<text class="tt" x="2077.7" y="1199.5" textLength="64" lengthAdjust="spacingAndGlyphs">PEMBANTU KEMAHIRAN H1/2/3</text>
<text class="tt" x="2162" y="1199.5" textLength="64" lengthAdjust="spacingAndGlyphs">PEMBANTU KEMAHIRAN H1/2/3</text>

<!-- ===== BOTTOM BOXES ===== -->
<rect class="bb" x="495.5" y="1367" width="89" height="39"/>
<text class="bt" x="540" y="1383.5" textLength="79" lengthAdjust="spacingAndGlyphs">PEMBANTU KHIDMAT AM H1/2/3</text>
<text class="bt" x="540" y="1397.5" textLength="24" lengthAdjust="spacingAndGlyphs">4 ORANG</text>

<rect class="bb" x="999.5" y="1367" width="89" height="39"/>
<text class="bt" x="1044" y="1383.5" textLength="79" lengthAdjust="spacingAndGlyphs">PEMBANTU KHIDMAT AM H1/2/3</text>
<text class="bt" x="1044" y="1397.5" textLength="24" lengthAdjust="spacingAndGlyphs">8 ORANG</text>

<rect class="bb" x="1503.5" y="1367" width="89" height="39"/>
<text class="bt" x="1548" y="1383.5" textLength="79" lengthAdjust="spacingAndGlyphs">PEMBANTU KHIDMAT AM H1/2/3</text>
<text class="bt" x="1548" y="1397.5" textLength="25.5" lengthAdjust="spacingAndGlyphs">11 ORANG</text>

<rect class="bb" x="1876.5" y="1367" width="89" height="39"/>
<text class="bt" x="1921" y="1383.5" textLength="79" lengthAdjust="spacingAndGlyphs">PEMBANTU KHIDMAT AM H1/2/3</text>
<text x="1904.5" y="1398" textLength="11" lengthAdjust="spacingAndGlyphs" style="font-family:'Liberation Sans',sans-serif;font-weight:bold;font-size:13px;fill:#222">44</text>
<text x="1919" y="1397.5" textLength="19" lengthAdjust="spacingAndGlyphs" style="font-family:'Liberation Sans',sans-serif;font-size:10.5px;fill:#222">ORANG</text>

<rect class="bb" x="2081" y="1367" width="89" height="39"/>
<text class="bt" x="2125.5" y="1383.5" textLength="79" lengthAdjust="spacingAndGlyphs">PEMBANTU KHIDMAT AM H1/2/3</text>
<text class="bt" x="2125.5" y="1397.5" textLength="23" lengthAdjust="spacingAndGlyphs">5 ORANG</text>

<!-- date -->
<text x="359" y="1427" textLength="139" lengthAdjust="spacingAndGlyphs" style="font-family:'Liberation Sans',sans-serif;font-weight:bold;font-size:16px;fill:#333">TARIKH KEMASKINI: 02/01/2025</text>
</svg>
</body></html>
